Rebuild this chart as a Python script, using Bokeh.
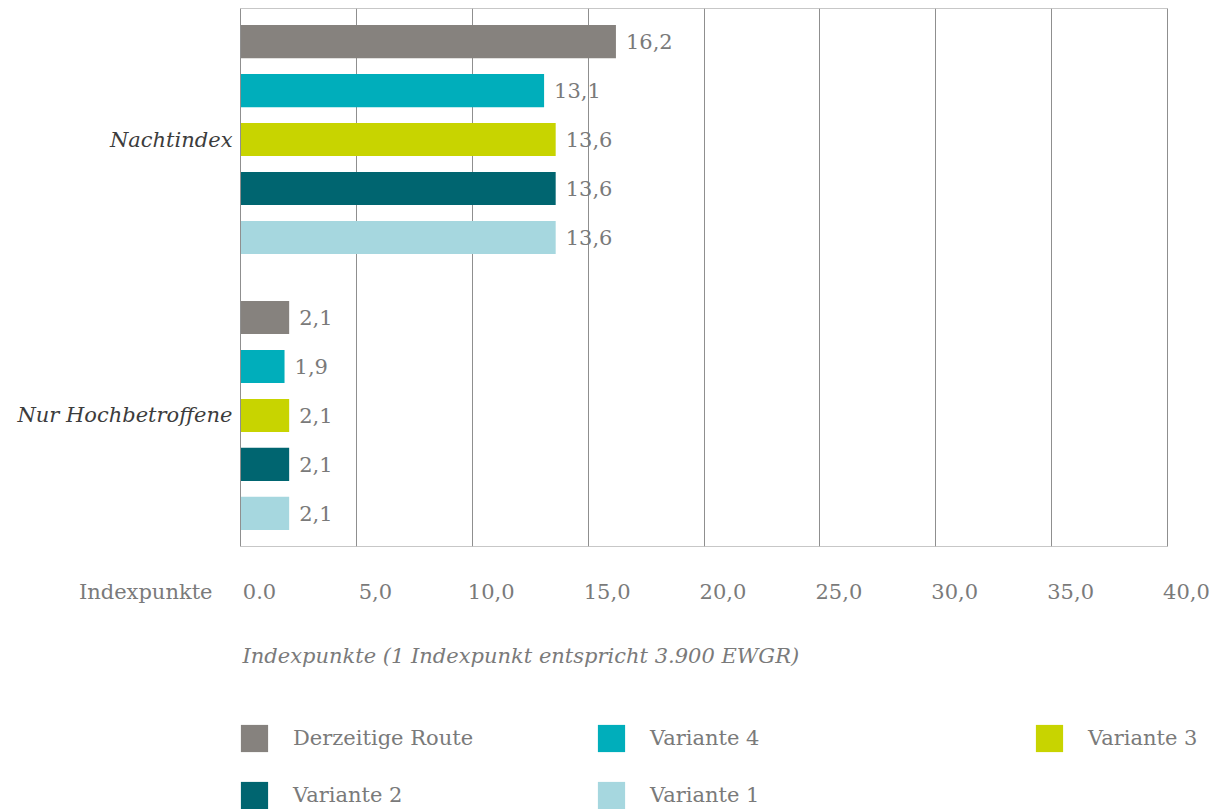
from bokeh.plotting import figure
from bokeh.layouts import column
from bokeh.models import (ColumnDataSource, FactorRange, LabelSet, Legend, LegendItem,
                          FixedTicker, Range1d, BoxAnnotation)
from bokeh.transform import dodge
from bokeh.core.properties import value
from bokeh.embed import file_html
from bokeh.resources import INLINE

# ---------------- data ----------------
categories = ["Nachtindex", "Nur Hochbetroffene"]
series = ["Derzeitige Route", "Variante 4", "Variante 3", "Variante 2", "Variante 1"]
colors = ["#86827e", "#00aebb", "#c8d400", "#006570", "#a6d7df"]
nachtindex = [16.2, 13.1, 13.6, 13.6, 13.6]
hochbetroffene = [2.1, 1.9, 2.1, 2.1, 2.1]
x_ticks = [0, 5, 10, 15, 20, 25, 30, 35, 40]
x_tick_labels = ["0.0", "5,0", "10,0", "15,0", "20,0", "25,0", "30,0", "35,0", "40,0"]
x_unit_label = "Indexpunkte"
x_axis_title = "Indexpunkte (1 Indexpunkt entspricht 3.900 EWGR)"

# ---------------- style / layout ----------------
FONT = "DejaVu Serif"
GRAY_TXT = "#7a7a7a"
DARK_TXT = "#3c3c3c"
LINE = "#8f8f8f"
W, H = 1216, 809
LEFT, RIGHT_EDGE, TOP, FRAME_H = 240, 1167, 8, 538
MAIN_H = TOP + FRAME_H + 1
BOT_H = H - MAIN_H
X_MIN, X_MAX = 0, 40
PITCH = 0.1775          # bar spacing within a category (category units)
BAR_H = 0.12

u = (RIGHT_EDGE - LEFT) / (X_MAX - X_MIN)       # px per data unit
x0 = X_MIN - LEFT / u
xr = Range1d(x0, x0 + W / u)

# ---------------- main chart ----------------
p = figure(width=W, height=MAIN_H,
           y_range=FactorRange(factors=list(reversed(categories)),
                               range_padding=-0.025, range_padding_units="absolute"),
           x_range=xr,
           output_backend="svg", toolbar_location=None,
           min_border_left=0, min_border_right=0,
           min_border_top=TOP, min_border_bottom=1)

p.outline_line_color = None
p.axis.visible = False
p.xgrid.ticker = FixedTicker(ticks=x_ticks)
p.xgrid.grid_line_color = LINE
p.ygrid.grid_line_color = None
p.add_layout(BoxAnnotation(left=X_MIN, right=X_MAX, fill_alpha=0,
                           line_color=LINE, line_width=1, line_alpha=1))

n = len(series)
for i, s in enumerate(series):
    vals = [nachtindex[i], hochbetroffene[i]]
    src = ColumnDataSource(dict(
        y=categories,
        v=vals,
        lbl=[f"{v:.1f}".replace(".", ",") for v in vals],
    ))
    off = ((n - 1) / 2 - i) * PITCH
    ydodge = dodge("y", off, range=p.y_range)
    p.hbar(y=ydodge, left=0, right="v", height=BAR_H, source=src,
           fill_color=colors[i], line_color=None)
    p.add_layout(LabelSet(x="v", y=ydodge, text="lbl", source=src, x_offset=10,
                          text_baseline="middle", text_align="left",
                          text_font=value(FONT), text_font_size="21px",
                          text_color=GRAY_TXT))

# category labels left of the plot area
cat_src = ColumnDataSource(dict(x=[X_MIN] * len(categories), y=categories, t=categories))
p.add_layout(LabelSet(x="x", y="y", text="t", source=cat_src, x_offset=-8,
                      text_align="right", text_baseline="middle",
                      text_font=value(FONT), text_font_size="21px",
                      text_font_style="italic", text_color=DARK_TXT))

# ---------------- bottom panel: tick labels, axis title, legend ----------------
p2 = figure(width=W, height=BOT_H, x_range=xr, y_range=Range1d(0, BOT_H),
            output_backend="svg", toolbar_location=None,
            min_border_left=0, min_border_right=0, min_border_top=0, min_border_bottom=0)
p2.axis.visible = False
p2.grid.grid_line_color = None
p2.outline_line_color = None

TICK_ROW = BOT_H - (591 - MAIN_H)
TITLE_ROW = BOT_H - (655 - MAIN_H)

p2.text(x=x_ticks, y=[TICK_ROW] * len(x_ticks), text=x_tick_labels, x_offset=19,
        text_align="center", text_baseline="middle", text_font=value(FONT),
        text_font_size="21px", text_color=GRAY_TXT)
p2.text(x=[X_MIN], y=[TICK_ROW], text=[x_unit_label], x_offset=-28,
        text_align="right", text_baseline="middle", text_font=value(FONT),
        text_font_size="21px", text_color=GRAY_TXT)
p2.text(x=[X_MIN], y=[TITLE_ROW], text=[x_axis_title], x_offset=2,
        text_align="left", text_baseline="middle", text_font=value(FONT),
        text_font_size="21px", text_font_style="italic", text_color=GRAY_TXT)

# zero-size proxy bars that carry the series colours for the legend swatches
proxies = [p2.hbar(y=[0], left=[0], right=[0], height=0, fill_color=c, line_color=None)
           for c in colors]

GLYPH = 34   # legend glyph box (swatch drawn at 80 % of it -> ~27 px)
ROW_GAP = 23

def make_legend(idx, loc):
    lg = Legend(items=[LegendItem(label=series[i], renderers=[proxies[i]]) for i in idx],
                location=loc, orientation="vertical",
                glyph_width=GLYPH, glyph_height=GLYPH, label_height=GLYPH,
                label_standoff=22, spacing=ROW_GAP, padding=0, margin=0,
                border_line_color=None, background_fill_alpha=0,
                label_text_font=FONT, label_text_font_size="21px",
                label_text_color=GRAY_TXT, label_text_baseline="middle")
    p2.add_layout(lg, "center")

ROW1_BOTTOM = BOT_H - (738 - MAIN_H) - GLYPH / 2
ROW2_BOTTOM = ROW1_BOTTOM - GLYPH - ROW_GAP
make_legend([0, 3], (LEFT - 3, ROW2_BOTTOM))
make_legend([1, 4], (597 - 3, ROW2_BOTTOM))
make_legend([2], (1035 - 3, ROW1_BOTTOM))

layout = column(p, p2, spacing=0)
open("out.html", "w").write(file_html(layout, INLINE))
